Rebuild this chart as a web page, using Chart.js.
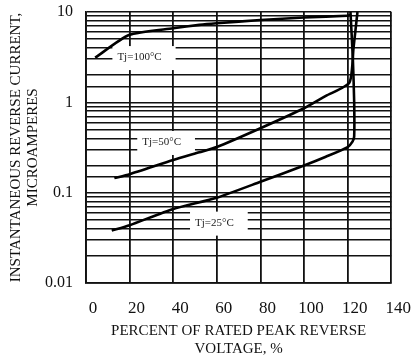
<!DOCTYPE html>
<html>
<head>
<meta charset="utf-8">
<script src="https://cdn.jsdelivr.net/npm/chart.js@4"></script>
<style>
  body { margin: 0; background: #fff; }
</style>
</head>
<body>
<canvas id="chart" width="419" height="358"></canvas>
<script>
// (x = % of rated peak reverse voltage, y = uA)
var tj100X = [4.2, 19.7, 40, 52, 60, 80, 100, 120, 121.5];
var tj100Y = [3.12, 5.56, 6.6, 7.2, 7.5, 8.15, 8.7, 9.1, 9.3];

var tj50X = [13, 20, 40, 52, 60, 80, 100, 110, 120.8, 122.7, 124.5];
var tj50Y = [0.145, 0.16, 0.23, 0.28, 0.32, 0.517, 0.86, 1.18, 1.65, 4.0, 10];

var tj25X = [11.8, 20, 40, 60, 80, 100, 110, 120, 122.3, 123, 123, 122.4, 121.3];
var tj25Y = [0.038, 0.0436, 0.066, 0.088, 0.132, 0.2, 0.25, 0.32, 0.37, 0.42, 1.0, 3.0, 10];

var curveNames = ['Tj=100°C', 'Tj=50°C', 'Tj=25°C'];
var yTickValues = [0.01, 0.1, 1, 10];
var yTickLabels = ['0.01', '0.1', '1', '10'];

// where the curve names sit (left edge of text, in data units)
var nameAtX = [14.4, 25.8, 50];
var nameAtY = [3.17, 0.364, 0.0466];

var serif = '"Liberation Serif", "Times New Roman", serif';

function pts(xs, ys) {
  return xs.map(function (v, i) { return { x: v, y: ys[i] }; });
}

function curve(xs, ys) {
  return {
    data: pts(xs, ys),
    showLine: true,
    borderColor: '#000',
    borderWidth: 2.6,
    pointRadius: 0,
    tension: 0.2,
    fill: false
  };
}

// white boxes with the Tj names, painted over the grid
var curveLabels = {
  id: 'curveLabels',
  beforeDatasetsDraw: function (chart) {
    var ctx = chart.ctx;
    var x = chart.scales.x, y = chart.scales.y;
    ctx.save();
    ctx.font = '11px ' + serif;
    ctx.textBaseline = 'middle';
    curveNames.forEach(function (name, i) {
      var px = x.getPixelForValue(nameAtX[i]);
      var py = y.getPixelForValue(nameAtY[i]);
      var w = ctx.measureText(name).width;
      ctx.fillStyle = '#fff';
      ctx.fillRect(px - 5, py - 11, w + 19, 24);
      ctx.fillStyle = '#222';
      ctx.fillText(name, px, py);
    });
    ctx.restore();
  }
};

var ctx = document.getElementById('chart').getContext('2d');
var chart = new Chart(ctx, {
  type: 'scatter',
  data: {
    datasets: [curve(tj100X, tj100Y), curve(tj50X, tj50Y), curve(tj25X, tj25Y)]
  },
  options: {
    responsive: false,
    animation: false,
    plugins: { legend: { display: false }, tooltip: { enabled: false } },
    layout: { padding: { top: 12, right: 25, left: 0, bottom: 0 } },
    scales: {
      x: {
        type: 'linear',
        min: 0,
        max: 140,
        ticks: { stepSize: 20, labelOffset: 7, padding: 15, color: '#111', font: { family: serif, size: 17 } },
        grid: { color: '#111', lineWidth: 1.8, drawTicks: false },
        border: { color: '#111', width: 1.8 },
        title: {
          display: true,
          text: ['PERCENT OF RATED PEAK REVERSE', 'VOLTAGE, %'],
          color: '#111',
          font: { family: serif, size: 15, lineHeight: 1.2 },
          padding: { top: 0, bottom: 0 }
        },
        afterFit: function (s) { s.height = 75; }
      },
      y: {
        type: 'logarithmic',
        min: 0.01,
        max: 10,
        ticks: {
          autoSkip: false,
          padding: 13,
          color: '#111',
          font: { family: serif, size: 16 },
          callback: function (v) {
            for (var i = 0; i < yTickValues.length; i++) {
              if (Math.abs(v - yTickValues[i]) < yTickValues[i] * 1e-6) return yTickLabels[i];
            }
            return '';
          }
        },
        grid: { color: '#111', lineWidth: 1.5, drawTicks: false },
        border: { color: '#111', width: 1.8 },
        title: {
          display: true,
          text: ['INSTANTANEOUS REVERSE CURRENT,', 'MICROAMPERES'],
          color: '#111',
          font: { family: serif, size: 15, lineHeight: 1.15 },
          padding: { top: 7, bottom: 0 }
        },
        afterFit: function (s) {
          s.width = 86;
          s.paddingTop = 0;
          s.paddingBottom = 0;
        }
      }
    }
  },
  plugins: [curveLabels]
});
</script>
</body>
</html>
